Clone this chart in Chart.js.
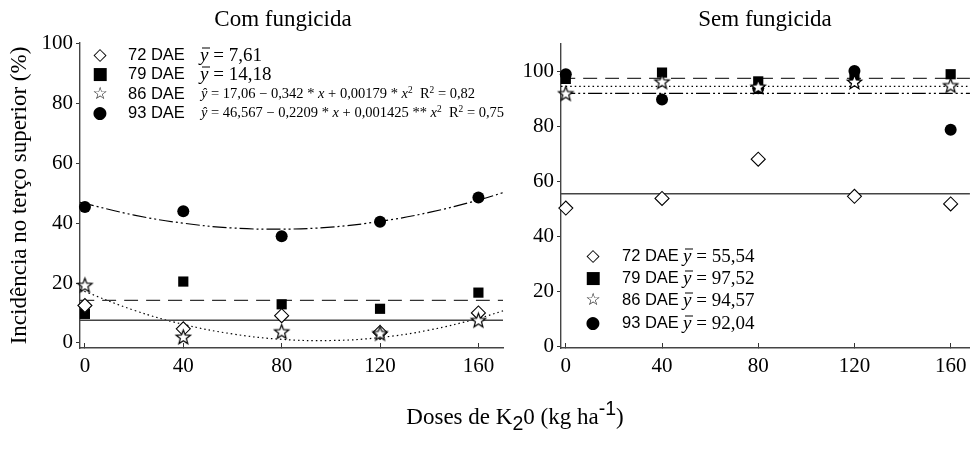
<!DOCTYPE html>
<html>
<head>
<meta charset="utf-8">
<script src="https://cdn.jsdelivr.net/npm/chart.js@4.4.1/dist/chart.umd.min.js"></script>
<style>
body { margin: 0; background: #fff; width: 978px; height: 451px; position: relative; overflow: hidden; }
canvas { position: absolute; top: 0; }
.t { position: absolute; white-space: nowrap; color: #000; line-height: 1; transform: translateY(-50%); }
.serif { font-family: "Liberation Serif", "Times New Roman", serif; }
.sans { font-family: "Liberation Sans", Arial, sans-serif; }
.mk { font-family: "DejaVu Sans", sans-serif; width: 18px; text-align: center; }
.ob { position: relative; font-style: italic; }
.ob::after { content: ''; position: absolute; left: 0.12em; right: -0.06em; top: 0.22em; border-top: 1px solid #000; }
sup { font-size: 0.65em; vertical-align: 0.55em; }
.title { font-size: 23px; transform: translate(-50%, -50%); }
.xt sub, .xt sup { font-family: "Liberation Sans", Arial, sans-serif; font-size: 0.85em; }
.xt sub { vertical-align: -0.3em; }
.xt sup { vertical-align: 0.45em; }
</style>
</head>
<body>
<canvas id="comChart" width="520" height="400" style="left:0"></canvas>
<canvas id="semChart" width="458" height="400" style="left:520px"></canvas>

<div class="t serif title" style="left:283px;top:18px">Com fungicida</div>
<div class="t serif title" style="left:765px;top:18px">Sem fungicida</div>
<div class="t serif xt" style="left:515px;top:416px;font-size:23px;transform:translate(-50%,-50%)">Doses de K<sub>2</sub>0 (kg ha<sup>-1</sup>)</div>

<div id="legends"></div>

<script>
// doses de K2O (kg/ha)
const doses = [0, 40, 80, 120, 160];
const xTicks = [0, 40, 80, 120, 160];
const yTicks = [0, 20, 40, 60, 80, 100];
const dae = ['72 DAE', '79 DAE', '86 DAE', '93 DAE'];

// Com fungicida
const com72 = [12.5, 4.7, 9.1, 3.5, 10.0];
const com79 = [9.7, 20.5, 12.9, 11.4, 16.8];
const com86 = [19.1, 1.8, 3.6, 3.0, 7.4];
const com93 = [45.4, 44.0, 35.6, 40.5, 48.6];
const comMean72 = 7.61;
const comMean79 = 14.18;
// fitted curves
const fitX = [-2, 20, 40, 60, 80, 100, 120, 140, 160, 170];
const comFit86 = [17.8, 10.9, 6.2, 3.0, 1.2, 0.8, 1.8, 4.3, 8.2, 10.7];
const comFit93 = [47.0, 42.7, 40.0, 38.4, 38.0, 38.7, 40.6, 43.6, 47.7, 50.2];

// Sem fungicida
const sem72 = [50.3, 53.8, 68.1, 54.6, 51.8];
const sem79 = [97.3, 99.6, 96.4, 97.5, 99.0];
const sem86 = [91.8, 96.1, 94.2, 96.0, 94.7];
const sem93 = [99.0, 89.8, 93.9, 100.2, 78.8];
const semMeans = [55.54, 97.52, 94.57, 92.04];

const comLegend = [
    '<span class="ob">y</span> = 7,61',
    '<span class="ob">y</span> = 14,18',
    '<i>ŷ</i> = 17,06 − 0,342 * <i>x</i> + 0,00179 * <i>x</i><sup>2</sup>&nbsp; R<sup>2</sup> = 0,82',
    '<i>ŷ</i> = 46,567 − 0,2209 * <i>x</i> + 0,001425 ** <i>x</i><sup>2</sup>&nbsp; R<sup>2</sup> = 0,75'
];
const semLegend = [
    '<span class="ob">y</span> = 55,54',
    '<span class="ob">y</span> = 97,52',
    '<span class="ob">y</span> = 94,57',
    '<span class="ob">y</span> = 92,04'
];
const markers = ['◇', '■', '☆', '●'];

const serif = 'Liberation Serif';

// open star marker
function makeStar(r) {
    const c = document.createElement('canvas');
    const s = Math.ceil(r * 2 + 4);
    c.width = s; c.height = s;
    const ctx = c.getContext('2d');
    ctx.beginPath();
    for (let i = 0; i < 10; i++) {
        const rr = i % 2 === 0 ? r : r * 0.42;
        const a = -Math.PI / 2 + i * Math.PI / 5;
        ctx.lineTo(s / 2 + rr * Math.cos(a), s / 2 + rr * Math.sin(a));
    }
    ctx.closePath();
    ctx.fillStyle = '#fff';
    ctx.fill();
    ctx.lineWidth = 1.2;
    ctx.strokeStyle = '#000';
    ctx.stroke();
    return c;
}
const star = makeStar(7.5);

function pts(xs, ys) {
    return xs.map((x, i) => ({ x: x, y: ys[i] }));
}

function hline(y, xMax) {
    return [{ x: -2, y: y }, { x: xMax, y: y }];
}

function lineSet(data, dash, color, width) {
    return {
        data: data,
        showLine: true,
        pointRadius: 0,
        borderColor: color || '#222',
        borderWidth: width || 1.2,
        borderDash: dash,
        tension: 0.4,
        fill: false,
        order: 10
    };
}

function markSets(s72, s79, s86, s93) {
    return [
        { data: pts(doses, s72), pointStyle: 'rectRot', pointRadius: 7, backgroundColor: '#fff', borderColor: '#000', borderWidth: 1.1, order: 2 },
        { data: pts(doses, s79), pointStyle: 'rect', pointRadius: 7.2, backgroundColor: '#000', borderColor: '#000', borderWidth: 0, order: 4 },
        { data: pts(doses, s86), pointStyle: star, backgroundColor: '#fff', borderColor: '#000', order: 1 },
        { data: pts(doses, s93), pointStyle: 'circle', pointRadius: 6, backgroundColor: '#000', borderColor: '#000', borderWidth: 0, order: 3 }
    ];
}

const dashMean = [14, 8];
const dotted = [1.5, 3];
const dashDotDot = [14, 3, 2, 3, 2, 3];

function makeScales(xMax, yMin, yMax, yTitle, yWidth) {
    return {
        x: {
            type: 'linear', min: -2, max: xMax,
            afterBuildTicks: s => { s.ticks = xTicks.map(v => ({ value: v })); },
            afterFit: s => { s.height = 52; },
            grid: { drawOnChartArea: false, color: '#333', tickLength: -5 },
            border: { color: '#444', width: 1.4 },
            ticks: { color: '#000', font: { family: serif, size: 21 }, padding: 11, maxRotation: 0 }
        },
        y: {
            type: 'linear', min: yMin, max: yMax,
            afterBuildTicks: s => { s.ticks = yTicks.map(v => ({ value: v })); },
            afterFit: s => { s.width = yWidth; },
            grid: { drawOnChartArea: false, color: '#333', tickLength: 4 },
            border: { color: '#444', width: 1.4 },
            ticks: { color: '#000', font: { family: serif, size: 21 }, padding: 3 },
            title: yTitle ? { display: true, text: yTitle, color: '#000', font: { family: serif, size: 23 }, padding: { top: 6, bottom: 0 } } : { display: false }
        }
    };
}

const commonOpts = {
    responsive: false,
    animation: false,
    events: [],
    plugins: { legend: { display: false }, tooltip: { enabled: false } }
};

new Chart(document.getElementById('comChart'), {
    type: 'scatter',
    data: {
        datasets: [
            lineSet(hline(comMean72, 170), [], '#444', 1.5),
            lineSet(hline(comMean79, 170), dashMean, '#333', 1.3),
            lineSet(pts(fitX, comFit86), dotted, '#000', 1.2),
            lineSet(pts(fitX, comFit93), dashDotDot, '#000', 1.2)
        ].concat(markSets(com72, com79, com86, com93)).map(d => Object.assign({ clip: false }, d))
    },
    options: Object.assign({}, commonOpts, {
        layout: { padding: { top: 43, right: 17, left: 0, bottom: 0 } },
        scales: makeScales(170, -1.7, 100.2, 'Incidência no terço superior (%)', 80)
    })
});

new Chart(document.getElementById('semChart'), {
    type: 'scatter',
    data: {
        datasets: [
            lineSet(hline(semMeans[0], 168), [], '#444', 1.5),
            lineSet(hline(semMeans[1], 168), dashMean, '#333', 1.3),
            lineSet(hline(semMeans[2], 168), dotted, '#000', 1.2),
            lineSet(hline(semMeans[3], 168), dashDotDot, '#000', 1.2)
        ].concat(markSets(sem72, sem79, sem86, sem93)).map(d => Object.assign({ clip: false }, d))
    },
    options: Object.assign({}, commonOpts, {
        layout: { padding: { top: 44, right: 0, left: 0, bottom: 0 } },
        scales: makeScales(168, -0.6, 110, null, 41)
    })
});

// legends as html text
const box = document.getElementById('legends');
function legend(rows, mkX, txtX, fX, fSizes, fHtml, mkSize, txtSize) {
    rows.forEach((y, i) => {
        box.insertAdjacentHTML('beforeend',
            '<div class="t mk" style="left:' + (mkX - 9) + 'px;top:' + y + 'px;font-size:' + mkSize + 'px">' + markers[i] + '</div>' +
            '<div class="t sans" style="left:' + txtX + 'px;top:' + y + 'px;font-size:' + txtSize + 'px">' + dae[i] + '</div>' +
            '<div class="t serif" style="left:' + fX[i] + 'px;top:' + y + 'px;font-size:' + fSizes[i] + 'px">' + fHtml[i] + '</div>');
    });
}
legend([54, 73, 93, 112], 100, 128, [200, 200, 201, 201], [19, 19, 14.5, 14.5], comLegend, 17, 16.5);
legend([255, 277, 299, 322], 593, 622, [683, 683, 683, 683], [19, 19, 19, 19], semLegend, 17, 16.5);
</script>
</body>
</html>
